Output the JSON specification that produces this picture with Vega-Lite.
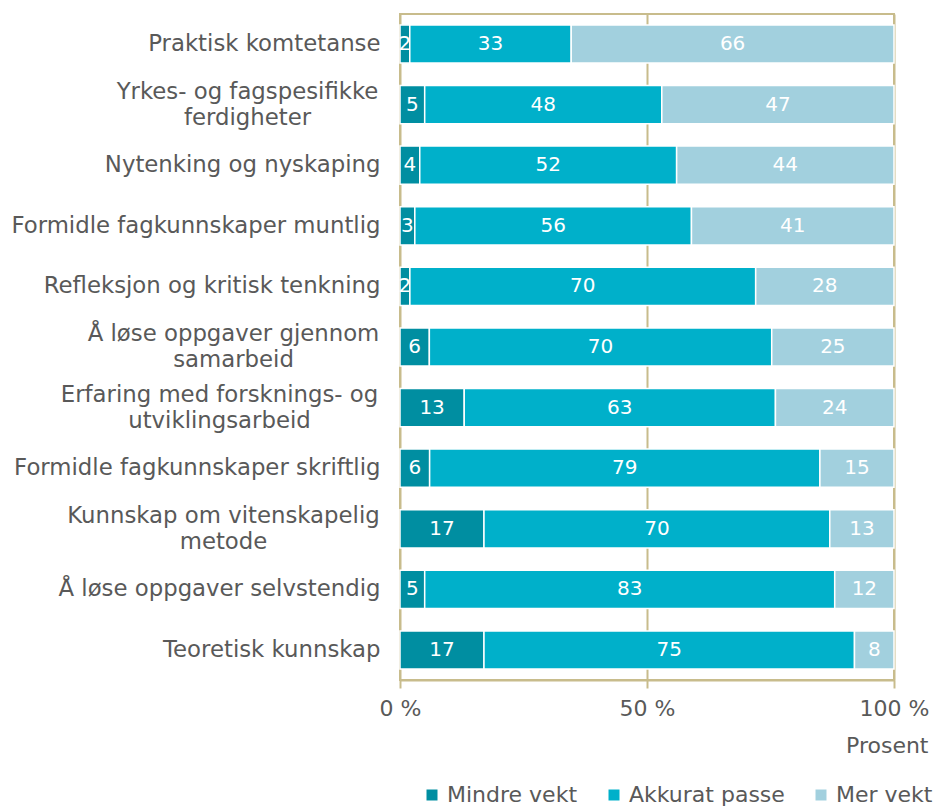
{
  "$schema": "https://vega.github.io/schema/vega-lite/v6.json",
  "width": 494,
  "height": 666,
  "autosize": {"type": "none"},
  "padding": {"left": 400, "top": 14, "right": 42, "bottom": 126},
  "background": "white",
  "config": {
    "font": "DejaVu Sans",
    "view": {"stroke": "#c8bc8c", "strokeWidth": 2}
  },
  "data": {
    "values": [
      {"cat": "Praktisk komtetanse", "series": "Mindre vekt", "ord": 1, "value": 2},
      {"cat": "Praktisk komtetanse", "series": "Akkurat passe", "ord": 2, "value": 33},
      {"cat": "Praktisk komtetanse", "series": "Mer vekt", "ord": 3, "value": 66},
      {"cat": "Yrkes- og fagspesifikke|ferdigheter", "series": "Mindre vekt", "ord": 1, "value": 5},
      {"cat": "Yrkes- og fagspesifikke|ferdigheter", "series": "Akkurat passe", "ord": 2, "value": 48},
      {"cat": "Yrkes- og fagspesifikke|ferdigheter", "series": "Mer vekt", "ord": 3, "value": 47},
      {"cat": "Nytenking og nyskaping", "series": "Mindre vekt", "ord": 1, "value": 4},
      {"cat": "Nytenking og nyskaping", "series": "Akkurat passe", "ord": 2, "value": 52},
      {"cat": "Nytenking og nyskaping", "series": "Mer vekt", "ord": 3, "value": 44},
      {"cat": "Formidle fagkunnskaper muntlig", "series": "Mindre vekt", "ord": 1, "value": 3},
      {"cat": "Formidle fagkunnskaper muntlig", "series": "Akkurat passe", "ord": 2, "value": 56},
      {"cat": "Formidle fagkunnskaper muntlig", "series": "Mer vekt", "ord": 3, "value": 41},
      {"cat": "Refleksjon og kritisk tenkning", "series": "Mindre vekt", "ord": 1, "value": 2},
      {"cat": "Refleksjon og kritisk tenkning", "series": "Akkurat passe", "ord": 2, "value": 70},
      {"cat": "Refleksjon og kritisk tenkning", "series": "Mer vekt", "ord": 3, "value": 28},
      {"cat": "Å løse oppgaver gjennom|samarbeid", "series": "Mindre vekt", "ord": 1, "value": 6},
      {"cat": "Å løse oppgaver gjennom|samarbeid", "series": "Akkurat passe", "ord": 2, "value": 70},
      {"cat": "Å løse oppgaver gjennom|samarbeid", "series": "Mer vekt", "ord": 3, "value": 25},
      {"cat": "Erfaring med forsknings- og|utviklingsarbeid", "series": "Mindre vekt", "ord": 1, "value": 13},
      {"cat": "Erfaring med forsknings- og|utviklingsarbeid", "series": "Akkurat passe", "ord": 2, "value": 63},
      {"cat": "Erfaring med forsknings- og|utviklingsarbeid", "series": "Mer vekt", "ord": 3, "value": 24},
      {"cat": "Formidle fagkunnskaper skriftlig", "series": "Mindre vekt", "ord": 1, "value": 6},
      {"cat": "Formidle fagkunnskaper skriftlig", "series": "Akkurat passe", "ord": 2, "value": 79},
      {"cat": "Formidle fagkunnskaper skriftlig", "series": "Mer vekt", "ord": 3, "value": 15},
      {"cat": "Kunnskap om vitenskapelig|metode", "series": "Mindre vekt", "ord": 1, "value": 17},
      {"cat": "Kunnskap om vitenskapelig|metode", "series": "Akkurat passe", "ord": 2, "value": 70},
      {"cat": "Kunnskap om vitenskapelig|metode", "series": "Mer vekt", "ord": 3, "value": 13},
      {"cat": "Å løse oppgaver selvstendig", "series": "Mindre vekt", "ord": 1, "value": 5},
      {"cat": "Å løse oppgaver selvstendig", "series": "Akkurat passe", "ord": 2, "value": 83},
      {"cat": "Å løse oppgaver selvstendig", "series": "Mer vekt", "ord": 3, "value": 12},
      {"cat": "Teoretisk kunnskap", "series": "Mindre vekt", "ord": 1, "value": 17},
      {"cat": "Teoretisk kunnskap", "series": "Akkurat passe", "ord": 2, "value": 75},
      {"cat": "Teoretisk kunnskap", "series": "Mer vekt", "ord": 3, "value": 8}
    ]
  },
  "transform": [
    {"stack": "value", "groupby": ["cat"], "sort": [{"field": "ord"}], "offset": "normalize", "as": ["x0", "x1"]}
  ],
  "encoding": {
    "y": {
      "field": "cat",
      "type": "nominal",
      "sort": null,
      "scale": {"paddingInner": 0.37, "paddingOuter": 0.18},
      "axis": {
        "title": null,
        "domain": false,
        "ticks": false,
        "labelFontSize": 22.8,
        "labelColor": "#595959",
        "labelLineHeight": 26,
        "labelLimit": 500,
        "labelExpr": "split(datum.label, '|')",
        "labelAlign": {"condition": {"test": "indexof(datum.value, '|') >= 0", "value": "center"}, "value": "right"},
        "labelOffset": {"condition": {"test": "indexof(datum.value, '|') >= 0", "value": -13}, "value": 0},
        "labelPadding": {"condition": [
          {"test": "indexof(datum.value, 'Yrkes') == 0", "value": 153},
          {"test": "indexof(datum.value, 'Å løse oppgaver gj') == 0", "value": 167},
          {"test": "indexof(datum.value, 'Erfaring') == 0", "value": 181},
          {"test": "indexof(datum.value, 'Kunnskap') == 0", "value": 177}
        ], "value": 20}
      }
    }
  },
  "layer": [
    {
      "mark": {"type": "bar", "stroke": "white", "strokeWidth": 1.5},
      "encoding": {
        "x": {
          "field": "x0",
          "type": "quantitative",
          "scale": {"domain": [0, 1]},
          "axis": {
            "values": [0, 0.5, 1],
            "labelExpr": "format(datum.value * 100, 'd') + ' %'",
            "labelFontSize": 22,
            "labelColor": "#595959",
            "labelPadding": 10,
            "labelFlush": false,
            "domainColor": "#c8bc8c",
            "domainWidth": 2,
            "tickColor": "#c8bc8c",
            "tickWidth": 2,
            "tickSize": 8,
            "grid": true,
            "gridColor": "#c8bc8c",
            "gridWidth": 2,
            "title": "Prosent",
            "titleFontSize": 22,
            "titleFontWeight": "normal",
            "titleColor": "#595959",
            "titleAnchor": "end",
            "titleAlign": "right",
            "titleBaseline": "middle",
            "titleX": 528,
            "titleY": 65
          }
        },
        "x2": {"field": "x1"},
        "color": {
          "field": "series",
          "type": "nominal",
          "scale": {
            "domain": ["Mindre vekt", "Akkurat passe", "Mer vekt"],
            "range": ["#008ea1", "#00b0ca", "#a2d0de"]
          },
          "legend": {
            "title": null,
            "orient": "none",
            "direction": "horizontal",
            "legendX": 21,
            "legendY": 770,
            "padding": 0,
            "symbolType": "square",
            "symbolSize": 121,
            "symbolStrokeWidth": 0,
            "labelFontSize": 22,
            "labelColor": "#595959",
            "labelOffset": 4,
            "columnPadding": 25
          }
        }
      }
    },
    {
      "mark": {
        "type": "text",
        "color": "white",
        "fontSize": 20,
        "baseline": "middle",
        "align": "center",
        "dx": {"expr": "(scale('x', datum.x1) - scale('x', datum.x0)) / 2"}
      },
      "encoding": {
        "x": {"field": "x0", "type": "quantitative"},
        "text": {"field": "value", "type": "quantitative"}
      }
    }
  ]
}
